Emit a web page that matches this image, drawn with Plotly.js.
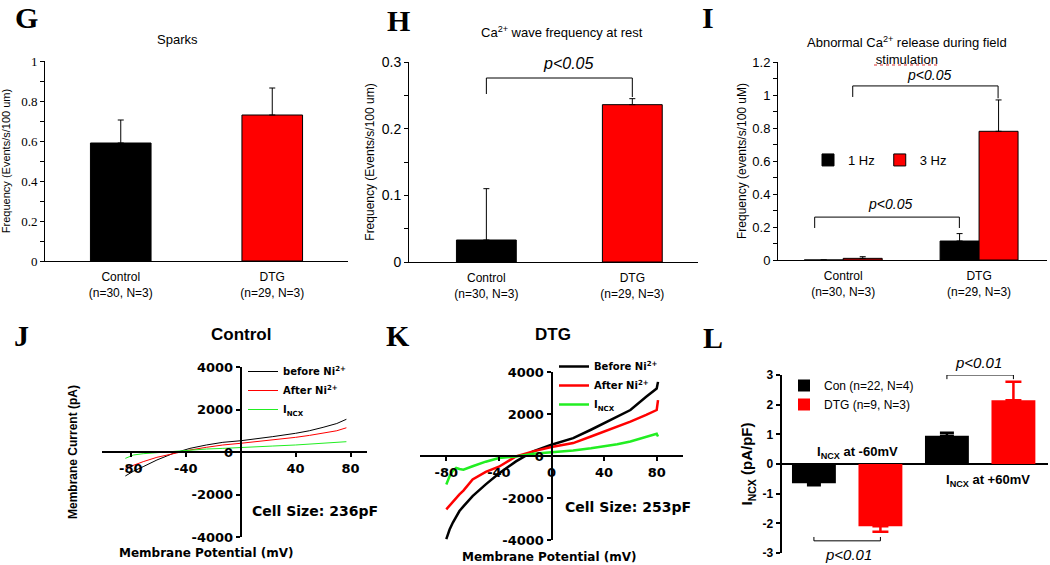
<!DOCTYPE html>
<html>
<head>
<meta charset="utf-8">
<script src="https://cdn.plot.ly/plotly-3.0.1.min.js"></script>
<style>
  html, body { margin: 0; padding: 0; background: #fff; }
  #fig { width: 1050px; height: 565px; }
</style>
</head>
<body>
<div id="fig"></div>
<script>
// =========================
//  Ca2+ handling / NCX panels G-L
// =========================

const SANS  = 'Liberation Sans, Arial, sans-serif';
const WIDE  = 'DejaVu Sans, Verdana, sans-serif';   // stands in for the letter-spaced labels
const SERIF = 'Liberation Serif, Times New Roman, serif';
const W = 1050, H = 565;

// --- G: sparks
const groupLabels = ['Control<br>(n=30, N=3)', 'DTG<br>(n=29, N=3)'];
const sparkFreq   = [0.59, 0.73];
const sparkErr    = [0.115, 0.135];

// --- H: Ca2+ wave frequency at rest
const waveFreq = [0.033, 0.236];
const waveErr  = [0.077, 0.009];

// --- I: abnormal release during field stimulation
const abn1Hz    = [0, 0.115];
const abn1HzErr = [null, 0.045];
const abn3Hz    = [0.01, 0.78];
const abn3HzErr = [0.01, 0.19];

// --- J: Control I-V (mV, pA)
const vmJ       = [-84, -78, -71, -61, -49, -37, -25, -13, 0, 12, 23, 40, 50, 60, 70, 77];
const jBefore   = [-1130, -900, -690, -376, -63, 170, 330, 455, 530, 620, 720, 880, 1000, 1160, 1340, 1540];
const jAfter    = [-770, -610, -455, -250, -63, 94, 220, 330, 410, 490, 565, 690, 780, 880, 1000, 1140];
const jIncx     = [-300, -140, -80, -30, 30, 94, 140, 170, 200, 240, 280, 330, 370, 410, 450, 485];

// --- K: DTG I-V (mV, pA)
const vmK       = [-80, -77.5, -75, -72.5, -70, -67, -60, -50, -40, -27, -14, 0, 16.5, 30, 40, 50, 60, 72, 80, 81];
const kBefore   = [-3960, -3500, -3170, -2900, -2620, -2400, -1910, -1350, -830, -255, 220, 535, 850, 1250, 1560, 1870, 2190, 2820, 3215, 3530];
const kAfter    = [-2540, -2350, -2200, -2000, -1830, -1650, -1120, -760, -510, -20, 220, 425, 615, 930, 1165, 1400, 1640, 1955, 2190, 2660];
const kIncx     = [-1360, -965, -700, -570, -620, -650, -490, -270, -100, -20, 110, 170, 265, 370, 455, 560, 690, 900, 1055, 930];

// --- I-V tick values
const ivCurrentTicks = [-4000, -2000, 0, 2000, 4000];
const jVoltTicks     = [-80, -40, 40, 80];
const kVoltTicks     = [-80, -40, 0, 40, 80];

// --- L: INCX density (pA/pF)
const incxGroups = ['-60mV', '+60mV'];
const incxCon    = [-0.65, 0.95];
const incxConErr = [0.07, 0.10];
const incxDtg    = [-2.1, 2.15];
const incxDtgErr = [0.18, 0.62];
const densTicks  = [-3, -2, -1, 0, 1, 2, 3];

// helpers
const dx = (a, b) => [a / W, b / W];
const dy = (top, bot) => [1 - bot / H, 1 - top / H];
const zeroPos = (dom, rng) => dom[0] + (0 - rng[0]) / (rng[1] - rng[0]) * (dom[1] - dom[0]);
const upErr   = (vals, err) => vals.map((v, i) => v >= 0 ? err[i] : 0);
const downErr = (vals, err) => vals.map((v, i) => v < 0 ? err[i] : 0);
const plain   = (vals) => vals.map(v => String(v));   // hyphen minus, as in the figure

function barErr(arr, color, thick, w) {
  return { type: 'data', symmetric: false, array: arr, arrayminus: arr.map(() => 0), color: color, thickness: thick, width: w };
}

const traces = [
  // G
  { type: 'bar', x: groupLabels, y: sparkFreq, xaxis: 'x', yaxis: 'y', width: 0.4, showlegend: false,
    marker: { color: ['#000', '#ff0000'], line: { color: '#000', width: 1 } },
    error_y: barErr(sparkErr, '#000', 1, 3) },
  // H
  { type: 'bar', x: groupLabels, y: waveFreq, xaxis: 'x2', yaxis: 'y2', width: 0.41, showlegend: false,
    marker: { color: ['#000', '#ff0000'], line: { color: '#000', width: 1 } },
    error_y: barErr(waveErr, '#000', 1, 3) },
  // I
  { type: 'bar', name: '1 Hz', x: groupLabels, y: abn1Hz, xaxis: 'x3', yaxis: 'y3', offset: -0.287, width: 0.287,
    legend: 'legend', marker: { color: '#000', line: { color: '#000', width: 1 } },
    error_y: barErr(abn1HzErr, '#000', 1, 3) },
  { type: 'bar', name: '3 Hz', x: groupLabels, y: abn3Hz, xaxis: 'x3', yaxis: 'y3', offset: 0, width: 0.287,
    legend: 'legend', marker: { color: '#ff0000', line: { color: '#000', width: 1 } },
    error_y: barErr(abn3HzErr, '#000', 1, 3) },
  // J
  { type: 'scatter', mode: 'lines', name: 'before Ni<sup>2+</sup>', x: vmJ, y: jBefore, xaxis: 'x4', yaxis: 'y4',
    legend: 'legend2', line: { color: '#000', width: 1 } },
  { type: 'scatter', mode: 'lines', name: 'After Ni<sup>2+</sup>', x: vmJ, y: jAfter, xaxis: 'x4', yaxis: 'y4',
    legend: 'legend2', line: { color: '#ff0000', width: 1 } },
  { type: 'scatter', mode: 'lines', name: 'I<sub>NCX</sub>', x: vmJ, y: jIncx, xaxis: 'x4', yaxis: 'y4',
    legend: 'legend2', line: { color: '#22ee22', width: 1 } },
  // K
  { type: 'scatter', mode: 'lines', name: 'Before Ni<sup>2+</sup>', x: vmK, y: kBefore, xaxis: 'x5', yaxis: 'y5',
    legend: 'legend3', line: { color: '#000', width: 2.5 } },
  { type: 'scatter', mode: 'lines', name: 'After Ni<sup>2+</sup>', x: vmK, y: kAfter, xaxis: 'x5', yaxis: 'y5',
    legend: 'legend3', line: { color: '#ff0000', width: 2.5 } },
  { type: 'scatter', mode: 'lines', name: 'I<sub>NCX</sub>', x: vmK, y: kIncx, xaxis: 'x5', yaxis: 'y5',
    legend: 'legend3', line: { color: '#22ee22', width: 2.5 } },
  // L
  { type: 'bar', name: 'Con (n=22, N=4)', x: incxGroups, y: incxCon, xaxis: 'x6', yaxis: 'y6', offset: -0.415, width: 0.33,
    legend: 'legend4', marker: { color: '#000', line: { width: 0 } },
    error_y: { type: 'data', symmetric: false, array: upErr(incxCon, incxConErr), arrayminus: downErr(incxCon, incxConErr),
               color: '#000', thickness: 2.5, width: 7 } },
  { type: 'bar', name: 'DTG (n=9, N=3)', x: incxGroups, y: incxDtg, xaxis: 'x6', yaxis: 'y6', offset: 0.085, width: 0.33,
    legend: 'legend4', marker: { color: '#ff0000', line: { width: 0 } },
    error_y: { type: 'data', symmetric: false, array: upErr(incxDtg, incxDtgErr), arrayminus: downErr(incxDtg, incxDtgErr),
               color: '#ff0000', thickness: 2.5, width: 8 } }
];

// axis templates
const catX = (dom, rng) => ({
  domain: dx(...dom), range: rng, type: 'category', showline: true, linecolor: '#000', linewidth: 1,
  ticks: '', showgrid: false, zeroline: false, tickfont: { family: SANS, size: 12, color: '#000' },
  ticklabelstandoff: 5, fixedrange: true
});
const valY = (dom, rng, dtick, minor, font, title, tsize, standoff) => ({
  domain: dy(...dom), range: rng, dtick: dtick, showline: true, linecolor: '#000', linewidth: 1,
  ticks: 'outside', ticklen: 4, tickcolor: '#000', showgrid: false, zeroline: false,
  minor: { ticks: 'outside', dtick: minor, ticklen: 4, tickcolor: '#000', showgrid: false },
  tickfont: font, title: { text: title, font: { family: SANS, size: tsize, color: '#000' }, standoff: standoff },
  fixedrange: true
});

const ivTick = { family: WIDE, size: 13, color: '#000', weight: 'bold' };
const jxDom = dx(102, 367), jyDom = dy(367, 537), jxRng = [-101, 92], jyRng = [-4000, 4000];
const kxDom = dx(420, 683), kyDom = dy(372, 540), kxRng = [-100, 100], kyRng = [-4000, 4000];

const ivAxis = (dom, rng, pos, vals) => ({
  domain: dom, range: rng, anchor: 'free', position: pos, showline: true, linecolor: '#000', linewidth: 2,
  ticks: 'outside', ticklen: 4, tickwidth: 2, tickcolor: '#000', tickvals: vals, ticktext: plain(vals),
  tickfont: ivTick, showgrid: false, zeroline: false, fixedrange: true
});

// significance brackets
function bracket(xr, yr, x0, x1, top, left, right, w) {
  const ln = { color: '#000', width: w || 1 };
  return [
    { type: 'line', xref: xr, yref: yr, x0: x0, x1: x1, y0: top, y1: top, line: ln },
    { type: 'line', xref: xr, yref: yr, x0: x0, x1: x0, y0: top, y1: left, line: ln },
    { type: 'line', xref: xr, yref: yr, x0: x1, x1: x1, y0: top, y1: right, line: ln }
  ];
}

function note(text, x, y, size, opts) {
  return Object.assign({ text: text, xref: 'paper', yref: 'paper', x: x / W, y: 1 - y / H, showarrow: false,
    xanchor: 'center', yanchor: 'middle', font: { family: SANS, size: size, color: '#000' } }, opts || {});
}
const letter = (t, x, y) => note(t, x, y, 30, { yanchor: 'top', borderpad: 0,
  font: { family: SERIF, size: 30, color: '#000', weight: 'bold' } });
const bold = (s, fam) => ({ font: { family: fam || SANS, size: s, color: '#000', weight: 'bold' } });
const ital = (s) => ({ font: { family: SANS, size: s, color: '#000', style: 'italic' } });

const annotations = [
  letter('G', 26, 0), letter('H', 398, 3), letter('I', 708, 0),
  letter('J', 21, 318), letter('K', 398, 318), letter('L', 713, 320),
  note('Sparks', 177, 39, 13),
  note('Ca<sup>2+</sup> wave frequency at rest', 562, 32, 13),
  note('Abnormal Ca<sup>2+</sup> release during field<br>stimulation', 907, 51, 13),
  note('p<0.05', 568, 63, 16, ital(16)),
  note('p<0.05', 929, 75, 14, ital(14)),
  note('p<0.05', 890, 204, 14, ital(14)),
  note('Control', 241, 334, 17, bold(17)),
  note('DTG', 553, 334, 17, bold(17)),
  note('Membrane Current (pA)', 73, 452, 12, Object.assign(bold(12), { textangle: -90 })),
  note('Membrane Potential (mV)', 206, 553, 12, bold(12, WIDE)),
  note('Membrane Potential (mV)', 549, 557, 12, bold(12, WIDE)),
  note('Cell Size: 236pF', 250, 511, 14, Object.assign(bold(14, WIDE), { xanchor: 'left' })),
  note('Cell Size: 253pF', 563, 507, 14, Object.assign(bold(14, WIDE), { xanchor: 'left' })),
  note('I<sub>NCX</sub> at -60mV', 857, 452, 13, bold(13)),
  note('I<sub>NCX</sub> at +60mV', 988, 480, 13, bold(13)),
  note('p<0.01', 978, 362, 15, ital(15)),
  note('p<0.01', 848, 554, 15, ital(15))
];

const shapes = [].concat(
  bracket('x2', 'y2', 0, 1, 0.276, 0.252, 0.2475),
  bracket('x3', 'y3', 0.07, 1.14, 1.055, 0.988, 0.98),
  bracket('x3', 'y3', -0.21, 0.855, 0.26, 0.194, 0.194),
  bracket('x6', 'y6', 0.75, 1.25, 3.0, 2.86, 2.86),
  bracket('x6', 'y6', -0.25, 0.25, -2.59, -2.46, -2.46),
  [{ type: 'line', xref: 'paper', yref: 'paper', x0: 874 / W, x1: 940 / W, y0: 1 - 65 / H, y1: 1 - 65 / H,
     line: { color: '#e03030', width: 1, dash: 'dot' } }]
);

const legendBase = { xanchor: 'left', yanchor: 'top', bgcolor: 'rgba(0,0,0,0)', itemwidth: 30 };

const layout = {
  width: W, height: H, margin: { l: 0, r: 0, t: 0, b: 0 },
  paper_bgcolor: '#fff', plot_bgcolor: 'rgba(0,0,0,0)',
  font: { family: SANS, color: '#000' },
  barmode: 'overlay',
  xaxis:  Object.assign(catX([45, 348], [-0.5, 1.5]), { anchor: 'y' }),
  yaxis:  Object.assign(valY([61, 261], [0, 1], 0.2, 0.1, { family: SERIF, size: 13, color: '#000' },
                             'Frequency (Events/s/100 um)', 11, 8), { anchor: 'x' }),
  xaxis2: Object.assign(catX([409, 698], [-0.53, 1.45]), { anchor: 'y2' }),
  yaxis2: Object.assign(valY([62, 262], [0, 0.3], 0.1, 0.05, { family: SANS, size: 14, color: '#000' },
                             'Frequency (Events/s/100 um)', 12, 4), { anchor: 'x2' }),
  xaxis3: Object.assign(catX([778, 1047], [-0.48, 1.5]), { anchor: 'y3' }),
  yaxis3: Object.assign(valY([62, 260], [0, 1.2], 0.2, 0.1, { family: SANS, size: 13, color: '#000' },
                             'Frequency (events/s/100 uM)', 12, 3), { anchor: 'x3' }),
  xaxis4: ivAxis(jxDom, jxRng, zeroPos(jyDom, jyRng), jVoltTicks),
  yaxis4: ivAxis(jyDom, jyRng, zeroPos(jxDom, jxRng), ivCurrentTicks),
  xaxis5: ivAxis(kxDom, kxRng, zeroPos(kyDom, kyRng), kVoltTicks),
  yaxis5: ivAxis(kyDom, kyRng, zeroPos(kxDom, kxRng), ivCurrentTicks),
  xaxis6: { domain: dx(782, 1048), range: [-0.49, 1.51], type: 'category', anchor: 'y6',
            showline: false, showticklabels: false, ticks: '', showgrid: false, zeroline: false, fixedrange: true },
  yaxis6: { domain: dy(375, 553), range: [-3, 3], anchor: 'x6', showline: true, linecolor: '#000', linewidth: 2.5,
            tickvals: densTicks, ticktext: plain(densTicks),
            ticks: 'outside', ticklen: 4, tickwidth: 2, tickcolor: '#000', showgrid: false,
            zeroline: true, zerolinecolor: '#000', zerolinewidth: 2.5,
            tickfont: { family: SANS, size: 12, color: '#000', weight: 'bold' },
            title: { text: 'I<sub>NCX</sub> (pA/pF)', font: { family: SANS, size: 15, color: '#000', weight: 'bold' }, standoff: 6 },
            fixedrange: true },
  legend:  Object.assign({}, legendBase, { x: 808 / W, y: 1 - 160 / H, yanchor: 'middle', orientation: 'h',
             font: { family: SANS, size: 13, color: '#000' } }),
  legend2: Object.assign({}, legendBase, { x: 243 / W, y: 1 - 357 / H,
             font: { family: WIDE, size: 10, color: '#000', weight: 'bold' } }),
  legend3: Object.assign({}, legendBase, { x: 554 / W, y: 1 - 352 / H,
             font: { family: WIDE, size: 10, color: '#000', weight: 'bold' } }),
  legend4: Object.assign({}, legendBase, { x: 784 / W, y: 1 - 371 / H,
             font: { family: SANS, size: 12, color: '#000' } }),
  annotations: annotations,
  shapes: shapes
};

Plotly.newPlot('fig', traces, layout, { responsive: false, displayModeBar: false, staticPlot: true });
</script>
</body>
</html>
